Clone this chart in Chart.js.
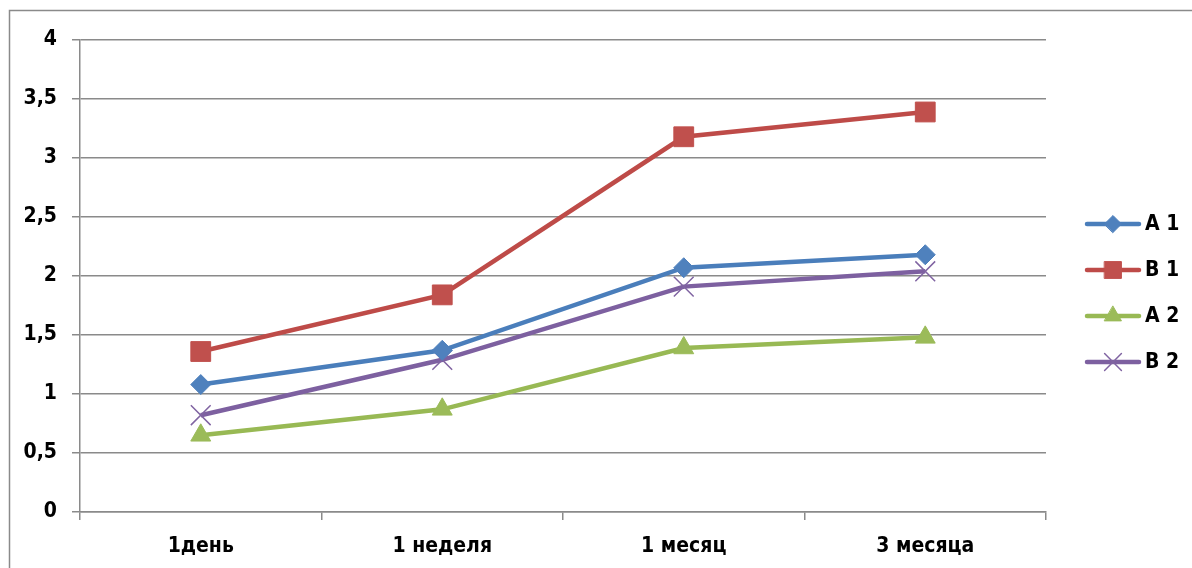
<!DOCTYPE html>
<html>
<head>
<meta charset="utf-8">
<script src="https://cdn.jsdelivr.net/npm/chart.js@4"></script>
<style>
  html, body { margin: 0; padding: 0; background: #fff; overflow: hidden; }
  #wrap { width: 1192px; height: 568px; }
</style>
</head>
<body>
<div id="wrap"><canvas id="myChart" width="1192" height="568"></canvas></div>
<script>
const categories = ["1день", "1 неделя", "1 месяц", "3 месяца"];
const seriesNames = ["A 1", "B 1", "A 2", "B 2"];
const a1 = [1.08, 1.37, 2.07, 2.18];
const b1 = [1.36, 1.84, 3.18, 3.39];
const a2 = [0.65, 0.87, 1.39, 1.48];
const b2 = [0.82, 1.29, 1.91, 2.04];
const yTicks = [0, 0.5, 1, 1.5, 2, 2.5, 3, 3.5, 4];

const FONT = "'DejaVu Sans Condensed', 'Liberation Sans', Arial, sans-serif";
const FONT_SIZE = 21;

function series(label, data, line, fill, style, radius, bw) {
  return {
    label: label,
    data: data,
    borderColor: line,
    backgroundColor: fill,
    borderWidth: 4.5,
    pointStyle: style,
    pointRadius: radius,
    pointHoverRadius: radius,
    pointBackgroundColor: fill,
    pointBorderColor: fill,
    pointBorderWidth: bw,
    tension: 0,
  };
}

// outer frame (only top and left edges are visible in the original)
const framePlugin = {
  id: "frame",
  beforeDraw(chart) {
    const c = chart.ctx;
    c.save();
    c.fillStyle = "#fff";
    c.fillRect(0, 0, chart.width, chart.height);
    c.strokeStyle = "#8a8a8a";
    c.lineWidth = 1.5;
    c.beginPath();
    c.moveTo(9.5, chart.height);
    c.lineTo(9.5, 10.5);
    c.lineTo(chart.width, 10.5);
    c.stroke();
    c.restore();
  },
};

// legend drawn by hand: line + marker + text
const legendPlugin = {
  id: "sideLegend",
  afterDraw(chart) {
    const c = chart.ctx;
    c.save();
    chart.data.datasets.forEach((ds, i) => {
      const y = 224 + i * 46;
      c.strokeStyle = ds.borderColor;
      c.lineWidth = 4.5;
      c.lineCap = "round";
      c.beginPath();
      c.moveTo(1087, y);
      c.lineTo(1139, y);
      c.stroke();
      c.fillStyle = ds.pointBackgroundColor;
      c.strokeStyle = ds.pointBorderColor;
      c.lineWidth = ds.pointBorderWidth;
      Chart.helpers.drawPoint(c, {
        pointStyle: ds.pointStyle,
        radius: ds.pointRadius * 0.85,
        rotation: 0,
        borderWidth: ds.pointBorderWidth,
      }, 1113, y);
      c.fillStyle = "#000";
      c.font = "bold " + FONT_SIZE + "px " + FONT;
      c.textBaseline = "middle";
      c.textAlign = "left";
      c.fillText(ds.label, 1145, y + 1);
    });
    c.restore();
  },
};

const ctx = document.getElementById("myChart");

new Chart(ctx, {
  type: "line",
  data: {
    labels: categories,
    datasets: [
      series(seriesNames[0], a1, "#4A7EBB", "#4F81BD", "rectRot", 10, 1),
      series(seriesNames[1], b1, "#BE4B48", "#C0504D", "rect", 14, 1),
      series(seriesNames[2], a2, "#98B954", "#9BBB59", "triangle", 11.5, 1),
      series(seriesNames[3], b2, "#7D60A0", "#8064A2", "crossRot", 14, 1.5),
    ],
  },
  options: {
    responsive: false,
    animation: false,
    layout: {
      padding: { left: 9, top: 40, right: 146, bottom: 0 },
    },
    plugins: {
      legend: { display: false },
      tooltip: { enabled: false },
    },
    scales: {
      x: {
        offset: true,
        grid: {
          offset: true,
          drawOnChartArea: false,
          color: "#8a8a8a",
          lineWidth: 1.5,
          tickLength: 8,
        },
        border: { color: "#8a8a8a", width: 1.5 },
        ticks: {
          color: "#000",
          padding: 14,
          maxRotation: 0,
          font: { family: FONT, size: FONT_SIZE, weight: "bold" },
        },
        afterFit(scale) {
          scale.height = 56;
        },
      },
      y: {
        min: 0,
        max: 4,
        afterBuildTicks(scale) {
          scale.ticks = yTicks.map((v) => ({ value: v }));
        },
        grid: {
          color: "#8a8a8a",
          lineWidth: 1.5,
          tickLength: 8,
        },
        border: { color: "#8a8a8a", width: 1.5 },
        ticks: {
          color: "#000",
          padding: 15,
          font: { family: FONT, size: FONT_SIZE, weight: "bold" },
          callback: (v) => String(v).replace(".", ","),
        },
        afterFit(scale) {
          scale.width = 71;
        },
      },
    },
  },
  plugins: [framePlugin, legendPlugin],
});
</script>
</body>
</html>
